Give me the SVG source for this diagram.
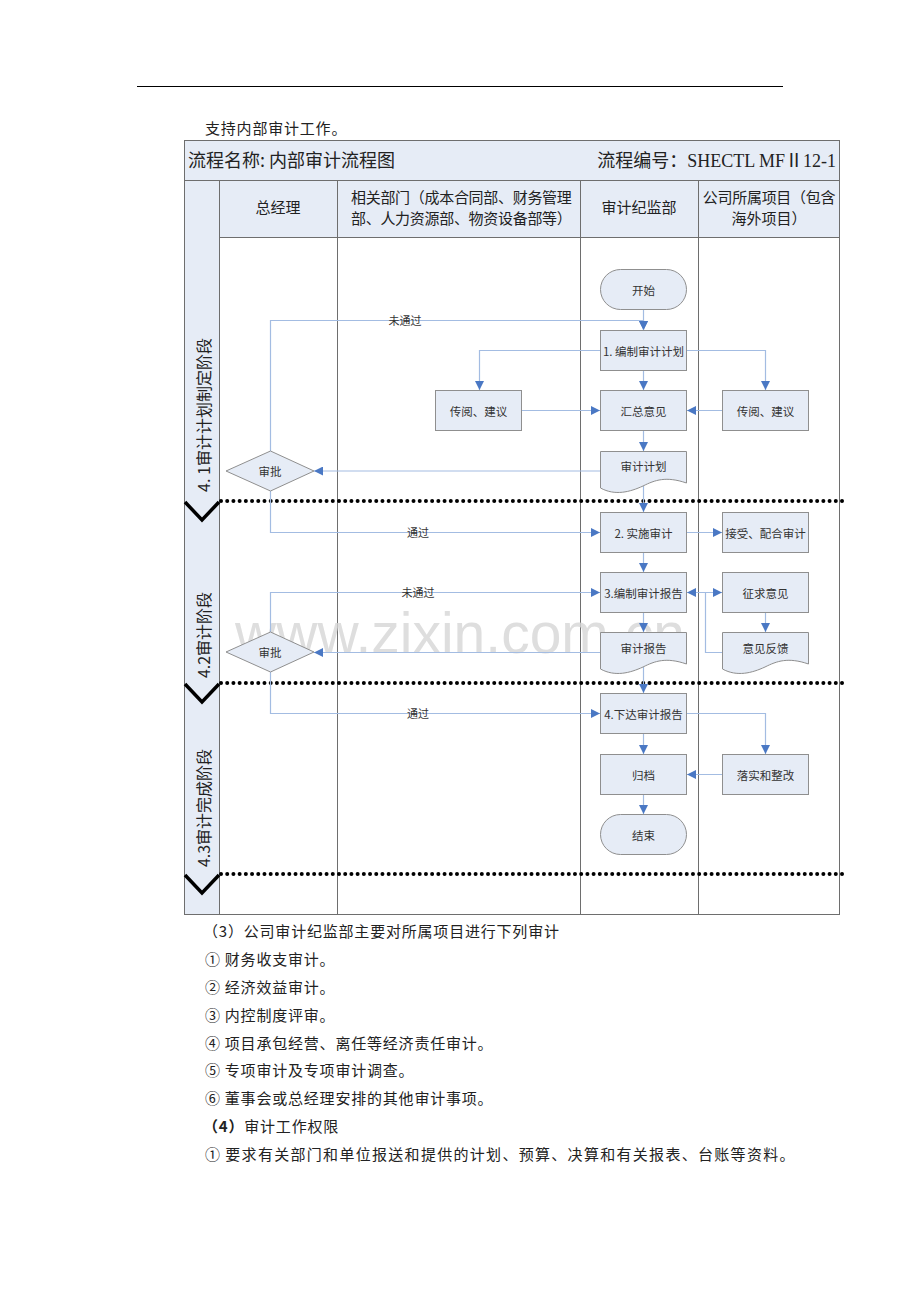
<svg xmlns="http://www.w3.org/2000/svg" width="920" height="1302" viewBox="0 0 920 1302">
<defs>
<marker id="arr" viewBox="0 0 10 10" refX="10" refY="5" markerWidth="9" markerHeight="9" markerUnits="userSpaceOnUse" orient="auto-start-reverse">
<path d="M0,0 L10,5 L0,10 Z" fill="#4a78c4"/>
</marker>
<style>
.cjk{font-family:"Noto Sans CJK SC","Noto Sans",sans-serif;fill:#222}
.hdr{font-size:15px}
.nd{font-size:11.5px;fill:#333;text-anchor:middle;dominant-baseline:central}
.box{fill:#e6ecf6;stroke:#8f8f8f;stroke-width:1}
.grid{stroke:#6e6e6e;stroke-width:1;fill:none}
.con{fill:none;stroke:#a3bce2;stroke-width:1.2}
.arw{marker-end:url(#arr)}
.dot{stroke:#000;stroke-width:4;stroke-linecap:round;stroke-dasharray:0.01 6.2;fill:none}
.chev{stroke:#000;stroke-width:3.5;fill:none}
.lbl{font-size:11px;fill:#333;text-anchor:middle;dominant-baseline:central}
.phase{font-size:16px;text-anchor:middle;dominant-baseline:central}
.body{font-size:15px;letter-spacing:0.8px}
</style>
</defs>
<rect width="920" height="1302" fill="#fff"/>
<line x1="137" y1="86.5" x2="783" y2="86.5" stroke="#000" stroke-width="1"/>
<text class="cjk body" x="205" y="134">支持内部审计工作。</text>

<g id="table">
<rect x="184" y="140" width="656" height="40" fill="#e6ecf6"/>
<rect x="184" y="180" width="656" height="57" fill="#e6ecf6"/>
<rect x="184" y="180" width="35" height="735" fill="#e6ecf6"/>
<rect x="184.5" y="140.5" width="655" height="774" class="grid" stroke="#888"/>
<line x1="184" y1="180.5" x2="840" y2="180.5" class="grid"/>
<line x1="219" y1="237.5" x2="840" y2="237.5" class="grid"/>
<line x1="219.5" y1="180" x2="219.5" y2="915" class="grid"/>
<line x1="337.5" y1="180" x2="337.5" y2="915" class="grid"/>
<line x1="580.5" y1="180" x2="580.5" y2="915" class="grid"/>
<line x1="698.5" y1="180" x2="698.5" y2="915" class="grid"/>
<text class="cjk" x="188" y="167" font-size="18">流程名称: 内部审计流程图</text>
<text x="836" y="167" font-size="18" text-anchor="end" font-family="Liberation Serif,Noto Sans CJK SC,serif" fill="#222">流程编号：SHECTL MFⅡ12-1</text>
<text class="cjk hdr" x="278" y="213" text-anchor="middle">总经理</text>
<text class="cjk hdr" x="351" y="203" letter-spacing="-0.3">相关部门（成本合同部、财务管理</text>
<text class="cjk hdr" x="351" y="224" letter-spacing="-0.3">部、人力资源部、物资设备部等）</text>
<text class="cjk hdr" x="639" y="213" text-anchor="middle">审计纪监部</text>
<text class="cjk hdr" x="769" y="203" text-anchor="middle" letter-spacing="-0.3">公司所属项目（包含</text>
<text class="cjk hdr" x="769" y="224" text-anchor="middle">海外项目）</text>
</g>

<g id="phases">
<line x1="221" y1="501" x2="843" y2="501" class="dot"/>
<line x1="221" y1="683" x2="843" y2="683" class="dot"/>
<line x1="221" y1="874" x2="843" y2="874" class="dot"/>
<polyline points="185,502 202,520 219,502" class="chev"/>
<polyline points="185,684 202,702 219,684" class="chev"/>
<polyline points="185,875 202,893 219,875" class="chev"/>
<text class="cjk phase" transform="translate(203,415) rotate(-90)">4. 1审计计划制定阶段</text>
<text class="cjk phase" transform="translate(203,635) rotate(-90)">4.2审计阶段</text>
<text class="cjk phase" transform="translate(203,808) rotate(-90)">4.3审计完成阶段</text>
</g>

<text x="460" y="653" font-family="Liberation Sans,Arial,sans-serif" font-size="57" fill="#d6d6d6" fill-opacity="0.8" text-anchor="middle">www.zixin.com.cn</text>

<g id="connectors">
<line x1="643.5" y1="309" x2="643.5" y2="330" class="con arw"/>
<polyline points="270.5,451 270.5,320.5 643.5,320.5 643.5,330" class="con arw"/>
<polyline points="600,350.5 479.5,350.5 479.5,390" class="con arw"/>
<polyline points="687,350.5 765.5,350.5 765.5,390" class="con arw"/>
<line x1="643.5" y1="370" x2="643.5" y2="390" class="con arw"/>
<line x1="522" y1="410.5" x2="600" y2="410.5" class="con arw"/>
<line x1="722" y1="410.5" x2="687" y2="410.5" class="con arw"/>
<line x1="643.5" y1="430" x2="643.5" y2="451" class="con arw"/>
<line x1="600" y1="471" x2="314" y2="471" class="con arw"/>
<line x1="643.5" y1="486" x2="643.5" y2="512" class="con arw"/>
<polyline points="270.5,491 270.5,532.5 600,532.5" class="con arw"/>
<line x1="687" y1="532.5" x2="722" y2="532.5" class="con arw"/>
<line x1="643.5" y1="552" x2="643.5" y2="572" class="con arw"/>
<polyline points="270.5,632 270.5,592.5 600,592.5" class="con arw"/>
<line x1="687" y1="592.5" x2="722" y2="592.5" class="con arw" marker-start="url(#arr)"/>
<polyline points="722,652.5 705.5,652.5 705.5,592.5" class="con"/>
<line x1="765.5" y1="612" x2="765.5" y2="632" class="con arw"/>
<line x1="643.5" y1="612" x2="643.5" y2="632" class="con arw"/>
<line x1="600" y1="652.5" x2="314" y2="652.5" class="con arw"/>
<line x1="643.5" y1="667" x2="643.5" y2="693" class="con arw"/>
<polyline points="270.5,672 270.5,713.5 600,713.5" class="con arw"/>
<polyline points="687,713.5 765.5,713.5 765.5,754" class="con arw"/>
<line x1="643.5" y1="733" x2="643.5" y2="754" class="con arw"/>
<line x1="722" y1="774.5" x2="687" y2="774.5" class="con arw"/>
<line x1="643.5" y1="794" x2="643.5" y2="814" class="con arw"/>
<text class="cjk lbl" x="405" y="320">未通过</text>
<text class="cjk lbl" x="418" y="532">通过</text>
<text class="cjk lbl" x="418" y="592">未通过</text>
<text class="cjk lbl" x="418" y="713">通过</text>
</g>

<g id="start"><rect x="600.5" y="269.5" width="86" height="40" rx="20" class="box"/><text class="cjk nd" x="643.5" y="289.5">开始</text></g>
<g id="plan"><rect x="600.5" y="330.5" width="86" height="40" class="box"/><text class="cjk nd" x="643.5" y="350.5">1. 编制审计计划</text></g>
<g id="summary"><rect x="600.5" y="390.5" width="86" height="40" class="box"/><text class="cjk nd" x="643.5" y="410.5">汇总意见</text></g>
<g id="review-dept"><rect x="435.5" y="390.5" width="86" height="40" class="box"/><text class="cjk nd" x="478.5" y="410.5">传阅、建议</text></g>
<g id="review-proj"><rect x="722.5" y="390.5" width="86" height="40" class="box"/><text class="cjk nd" x="765.5" y="410.5">传阅、建议</text></g>
<g id="plan-doc"><path d="M600.5,451.5 H686.5 V483 C666,476 655,480 643,486 C630,492 615,496 600.5,488 Z" class="box"/><text class="cjk nd" x="643.5" y="466">审计计划</text></g>
<g id="approve1"><polygon points="226,471 270.5,451 314,471 270.5,491" class="box"/><text class="cjk nd" x="270" y="471" font-size="11">审批</text></g>
<g id="implement"><rect x="600.5" y="512.5" width="86" height="40" class="box"/><text class="cjk nd" x="643.5" y="532.5">2. 实施审计</text></g>
<g id="cooperate"><rect x="722.5" y="512.5" width="86" height="40" class="box"/><text class="cjk nd" x="765.5" y="532.5">接受、配合审计</text></g>
<g id="report"><rect x="600.5" y="572.5" width="86" height="40" class="box"/><text class="cjk nd" x="643.5" y="592.5">3.编制审计报告</text></g>
<g id="opinion"><rect x="722.5" y="572.5" width="86" height="40" class="box"/><text class="cjk nd" x="765.5" y="592.5">征求意见</text></g>
<g id="report-doc"><path d="M600.5,632.5 H686.5 V664 C666,657 655,661 643,667 C630,673 615,677 600.5,669 Z" class="box"/><text class="cjk nd" x="643.5" y="647.5">审计报告</text></g>
<g id="feedback"><path d="M722.5,632.5 H808.5 V664 C788,657 777,661 765,667 C752,673 737,677 722.5,669 Z" class="box"/><text class="cjk nd" x="765.5" y="647.5">意见反馈</text></g>
<g id="approve2"><polygon points="226,652 270.5,632 314,652 270.5,672" class="box"/><text class="cjk nd" x="270" y="652" font-size="11">审批</text></g>
<g id="issue"><rect x="600.5" y="693.5" width="86" height="40" class="box"/><text class="cjk nd" x="643.5" y="713.5">4.下达审计报告</text></g>
<g id="archive"><rect x="600.5" y="754.5" width="86" height="40" class="box"/><text class="cjk nd" x="643.5" y="774.5">归档</text></g>
<g id="rectify"><rect x="722.5" y="754.5" width="86" height="40" class="box"/><text class="cjk nd" x="765.5" y="774.5">落实和整改</text></g>
<g id="end"><rect x="600.5" y="814.5" width="86" height="40" rx="20" class="box"/><text class="cjk nd" x="643.5" y="834.5">结束</text></g>

<g id="body-text" class="cjk body">
<text x="203" y="937">（3）公司审计纪监部主要对所属项目进行下列审计</text>
<text x="205" y="965">①<tspan dx="4">财务收支审计。</tspan></text>
<text x="205" y="993">②<tspan dx="4">经济效益审计。</tspan></text>
<text x="205" y="1021">③<tspan dx="4">内控制度评审。</tspan></text>
<text x="205" y="1049">④<tspan dx="4">项目承包经营、离任等经济责任审计。</tspan></text>
<text x="205" y="1076">⑤<tspan dx="4">专项审计及专项审计调查。</tspan></text>
<text x="205" y="1104">⑥<tspan dx="4">董事会或总经理安排的其他审计事项。</tspan></text>
<text x="203" y="1132"><tspan font-weight="bold">（4）</tspan>审计工作权限</text>
<text x="205" y="1160" letter-spacing="1.3">①<tspan dx="4">要求有关部门和单位报送和提供的计划、预算、决算和有关报表、台账等资料。</tspan></text>
</g>
</svg>
